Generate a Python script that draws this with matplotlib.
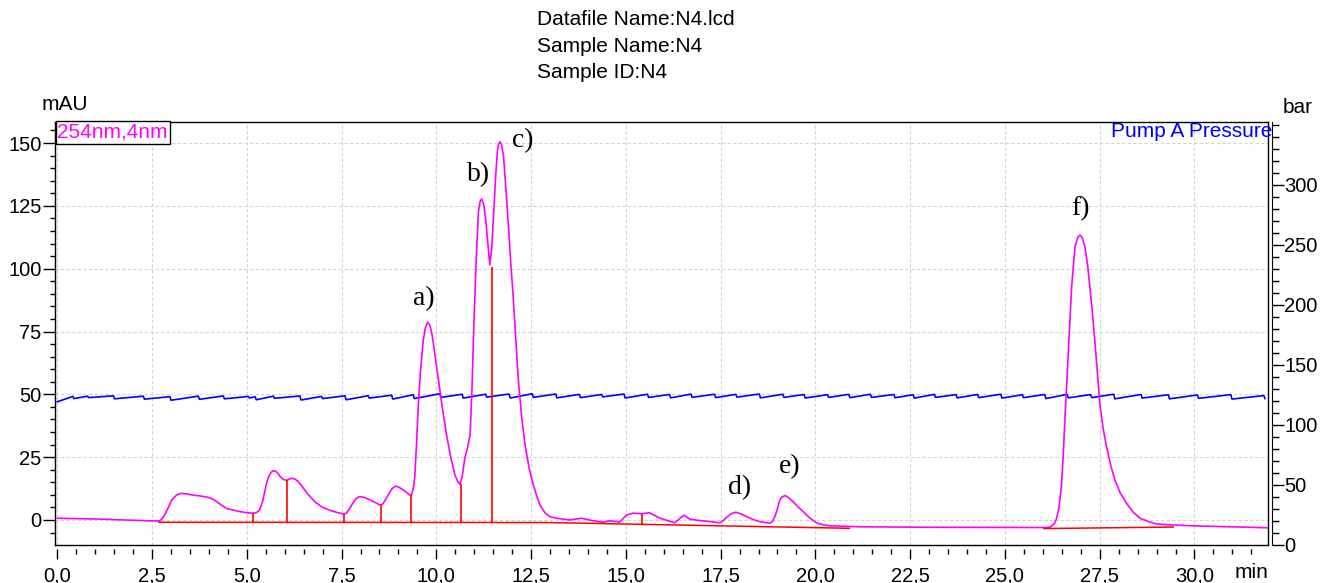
import matplotlib
matplotlib.use("Agg")
import matplotlib.pyplot as plt
from matplotlib.ticker import MultipleLocator, FixedLocator, FuncFormatter

# 254nm signal (min, mAU)
sig_t = [0.0, 1.0, 2.0, 2.6, 2.71, 2.78, 2.85, 2.93, 3.02, 3.15, 3.28, 3.45, 3.59, 3.8,
         3.98, 4.1, 4.2, 4.33, 4.47, 4.65, 4.8, 5.0, 5.13, 5.25, 5.33, 5.42, 5.47, 5.52,
         5.57, 5.62, 5.67, 5.72, 5.77, 5.82, 5.88, 5.95, 6.01, 6.07, 6.14, 6.21, 6.28,
         6.36, 6.43, 6.5, 6.58, 6.67, 6.8, 6.97, 7.1, 7.2, 7.38, 7.55, 7.62, 7.7, 7.8,
         7.88, 7.97, 8.1, 8.25, 8.38, 8.51, 8.57, 8.65, 8.75, 8.84, 8.93, 9.03, 9.13,
         9.22, 9.30, 9.34, 9.37, 9.40, 9.43, 9.47, 9.52, 9.58, 9.65, 9.71, 9.77, 9.83,
         9.89, 9.97, 10.05, 10.16, 10.27, 10.38, 10.49, 10.56, 10.62, 10.68, 10.75,
         10.82, 10.89, 10.94, 10.99, 11.05, 11.11, 11.16, 11.20, 11.25, 11.30, 11.36,
         11.41, 11.46, 11.52, 11.57, 11.61, 11.64, 11.68, 11.72, 11.77, 11.83, 11.90,
         11.96, 12.03, 12.10, 12.16, 12.25, 12.34, 12.45, 12.56, 12.66, 12.75, 12.87,
         13.0, 13.17, 13.52, 13.83, 14.1, 14.4, 14.58, 14.84, 15.02, 15.19, 15.42,
         15.62, 15.9, 16.29, 16.43, 16.54, 16.69, 16.95, 17.48, 17.57, 17.66, 17.78,
         17.90, 18.04, 18.19, 18.36, 18.54, 18.8, 18.87, 18.93, 19.0, 19.06, 19.13,
         19.21, 19.3, 19.41, 19.55, 19.68, 19.85, 20.03, 20.2, 20.38, 21.17, 23.0, 26.1,
         26.2, 26.3, 26.36, 26.42, 26.49, 26.54, 26.58, 26.63, 26.67, 26.72, 26.76,
         26.81, 26.85, 26.92, 26.98, 27.04, 27.11, 27.18, 27.24, 27.31, 27.37, 27.44,
         27.50, 27.59, 27.68, 27.79, 27.90, 28.05, 28.21, 28.38, 28.56, 28.78, 29.0,
         29.44, 30.14, 31.94]
sig_v = [0.7, 0.4, -0.1, -0.4, -0.3, 0.8, 2.5, 5.0, 8.0, 10.0, 10.6, 10.3, 9.9, 9.5,
         9.0, 8.3, 7.4, 5.9, 4.6, 3.9, 3.4, 2.9, 2.7, 2.9, 3.8, 7.5, 11.0, 14.6,
         17.0, 18.5, 19.4, 19.6, 19.3, 18.6, 17.3, 16.3, 15.9, 15.9, 16.4, 16.6, 16.2,
         15.2, 14.0, 12.5, 10.9, 9.3, 7.2, 5.3, 4.4, 3.8, 3.0, 2.4, 2.6, 4.3, 6.8,
         8.5, 9.3, 9.0, 8.0, 7.0, 6.0, 6.1, 7.8, 10.5, 12.6, 13.5, 12.9, 11.9,
         10.9, 9.9, 10.0, 11.2, 13.5, 17.0, 28.0, 44.4, 59.0, 71.0, 76.5, 78.7, 77.5,
         73.6, 65.0, 56.4, 44.5, 33.8, 25.0, 17.9, 15.5, 14.2, 17.0, 24.5,
         28.5, 33.8, 52.0, 77.6, 103.0, 122.7, 127.0, 127.7, 125.5, 120.0, 110.0,
         101.5, 108.0, 124.0, 138.0, 146.6, 149.5, 150.5, 149.3, 145.2, 133.0, 117.4,
         103.0, 88.2, 71.0, 56.4, 41.0, 29.8, 20.5, 13.9, 9.0, 5.5, 2.8,
         1.3, 0.7, 0.0, 0.7, -0.2, -0.9, -0.3, -0.8, 2.0, 2.7, 2.5,
         2.9, 0.7, -1.1, 0.7, 1.9, 0.3, -0.2, -1.1, -0.2, 1.1, 2.5,
         3.1, 2.4, 1.3, 0.2, -0.7, -1.3, -0.5, 1.3, 4.5, 8.0, 9.3,
         9.7, 8.8, 7.3, 5.1, 3.3, 0.8, -1.1, -1.9, -2.3, -2.7, -2.9, -3.0,
         -2.8, -1.5, 0.5, 4.5, 13.3, 26.0, 39.8, 54.0, 66.3, 81.0, 92.8,
         102.0, 108.8, 112.5, 113.4, 112.3, 108.8, 101.5, 92.8, 82.0, 71.6, 58.5,
         46.4, 36.5, 29.2, 21.8, 15.9, 10.5, 6.6, 3.2, 0.7, -0.6, -1.6,
         -2.0, -2.4, -3.1]

# integration baselines (red)
base1_t = [2.68, 12.9, 20.9]
base1_v = [-0.9, -1.0, -3.3]
base2_t = [26.03, 29.44]
base2_v = [-3.4, -2.8]
split_t = [5.17, 6.07, 7.57, 8.53, 9.33, 10.66, 11.46, 15.42]
split_top = [2.7, 15.9, 2.4, 6.0, 9.9, 14.4, 100.8, 2.5]
split_base = [-0.9, -0.9, -0.9, -0.9, -0.9, -0.9, -0.9, -1.7]

# pump A pressure (bar): sawtooth drops
press_start = 119.3
drop_t = [0.41, 0.80, 1.48, 2.27, 2.97, 3.72, 4.38, 5.04, 5.22, 5.70, 6.40, 6.97, 7.59,
          8.20, 8.82, 9.39, 10.09, 10.68, 11.30, 11.92, 12.53, 13.15, 13.77, 14.36,
          14.95, 15.57, 16.15, 16.72, 17.34, 17.90, 18.52, 19.14, 19.70, 20.32, 20.88,
          21.45, 22.07, 22.58, 23.14, 23.71, 24.28, 24.89, 25.46, 26.05, 26.64, 27.26,
          27.87, 28.59, 29.31, 30.08, 30.96, 31.83]
drop_hi = [123.8, 124.0, 124.3, 124.0, 123.6, 124.0, 124.2, 123.8, 123.5, 124.0, 124.2,
           123.8, 124.3, 124.4, 124.8, 125.2, 126.0, 125.6, 125.6, 125.8, 126.0, 125.8,
           125.5, 125.4, 125.8, 125.6, 125.4, 125.7, 125.6, 125.5, 125.8, 125.6, 125.4,
           125.2, 125.5, 125.6, 125.4, 125.2, 125.5, 125.3, 125.4, 125.6, 125.2, 125.4,
           125.5, 125.3, 125.6, 125.4, 125.2, 125.0, 125.3, 124.5]
drop_lo = [122.0, 122.8, 121.8, 121.5, 120.6, 121.4, 121.8, 122.5, 121.0, 122.2, 120.8,
           122.0, 121.0, 122.4, 121.6, 122.0, 123.0, 122.4, 123.2, 122.5, 123.0, 122.6,
           122.8, 123.4, 122.5, 123.0, 122.6, 123.0, 122.8, 123.2, 122.6, 123.0, 122.5,
           123.0, 122.8, 123.0, 122.7, 122.4, 123.0, 122.6, 122.8, 122.4, 122.8, 122.0,
           122.6, 122.8, 121.8, 122.4, 121.8, 122.2, 121.6, 122.0]

peak_labels = ["a)", "b)", "c)", "d)", "e)", "f)"]
label_t = [9.67, 11.12, 12.28, 18.01, 19.33, 26.98]
label_v = [88.0, 137.3, 150.8, 12.7, 21.1, 123.8]

tick_font = 14.5
plt.rcParams['font.family'] = ["Liberation Sans", 'DejaVu Sans']

fig = plt.figure(figsize=(13.33, 5.83), dpi=100)
ax = fig.add_axes([55 / 1333, 1 - 545 / 583, (1268 - 55) / 1333, (545 - 121.7) / 583])
ax2 = ax.twinx()

ax.set_xlim(-0.06, 31.94)
ax.set_ylim(-9.95, 158.5)
ax2.set_ylim(0, 352.7)

# pressure vertices
pt = [0.0]
pv = [press_start]
for t, h, l in zip(drop_t, drop_hi, drop_lo):
    pt += [t, t + 0.03]
    pv += [h, l]
ax.plot(pt, pv, color="#0000ff", lw=1.2, transform=ax2.transData, zorder=2)

ax.plot(sig_t, sig_v, color="#ff00ff", lw=1.2, zorder=3)
ax.plot(base1_t, base1_v, color="#ff0000", lw=1.1, zorder=4)
ax.plot(base2_t, base2_v, color="#ff0000", lw=1.1, zorder=4)
ax.vlines(split_t, split_base, split_top, color="#ff0000", lw=1.2, zorder=4)

for s, t, v in zip(peak_labels, label_t, label_v):
    ax.text(t, v, s, family="Liberation Serif", fontsize=20, ha="center", va="center", zorder=5)

# axes styling
ax.grid(True, which="major", color="#d4d4d4", linestyle=(0, (3, 2)), lw=0.8, zorder=0)
ax.xaxis.set_major_locator(MultipleLocator(2.5))
ax.xaxis.set_minor_locator(MultipleLocator(0.5))
ax.xaxis.set_major_formatter(FuncFormatter(lambda v, p: f"{v:.1f}".replace(".", ",")))
ax.yaxis.set_major_locator(MultipleLocator(25))
ax.yaxis.set_minor_locator(MultipleLocator(5))
ax2.yaxis.set_major_locator(FixedLocator([0, 50, 100, 150, 200, 250, 300]))
ax2.yaxis.set_minor_locator(FixedLocator(list(range(10, 360, 10))))

ax.spines["bottom"].set_position(("outward", 3))
ax.spines["bottom"].set_visible(False)
ax.plot([0, 1], [0, 0], transform=ax.transAxes, color="black", lw=1, clip_on=False)
for s in ["top", "left", "right"]:
    ax.spines[s].set_linewidth(1)
ax2.spines["right"].set_position(("outward", 3))
for s in ["top", "left", "bottom"]:
    ax2.spines[s].set_visible(False)

ax.tick_params(axis="x", which="major", length=7.2, width=1, labelsize=tick_font, pad=5)
ax.tick_params(axis="x", which="minor", length=3.6, width=1)
ax.tick_params(axis="y", which="major", length=8.6, width=1, labelsize=tick_font, pad=1)
ax.tick_params(axis="y", which="minor", length=3.6, width=1)
ax2.tick_params(axis="y", which="major", length=8.6, width=1, labelsize=tick_font, pad=0)
ax2.tick_params(axis="y", which="minor", length=5, width=1)

ax.text(0.002, 0.997, "254nm,4nm", transform=ax.transAxes, color="#ff00ff", fontsize=15,
        ha="left", va="top",
        bbox=dict(boxstyle="square,pad=0.08", facecolor="white", edgecolor="black", lw=1))
ax.text(1.004, 0.978, "Pump A Pressure", transform=ax.transAxes, color="#0000ff",
        fontsize=15, ha="right", va="center")

fig.text(0.4029, 0.9657, "Datafile Name:N4.lcd", fontsize=15, ha="left", va="center")
fig.text(0.4029, 0.921, "Sample Name:N4", fontsize=15, ha="left", va="center")
fig.text(0.4029, 0.8748, "Sample ID:N4", fontsize=15, ha="left", va="center")
fig.text(0.0488, 0.82, "mAU", fontsize=15, ha="center", va="center")
fig.text(0.9737, 0.8148, "bar", fontsize=15, ha="center", va="center")
fig.text(0.939, 0.0172, "min", fontsize=15, ha="center", va="center")

fig.savefig("out.png", dpi=100)
